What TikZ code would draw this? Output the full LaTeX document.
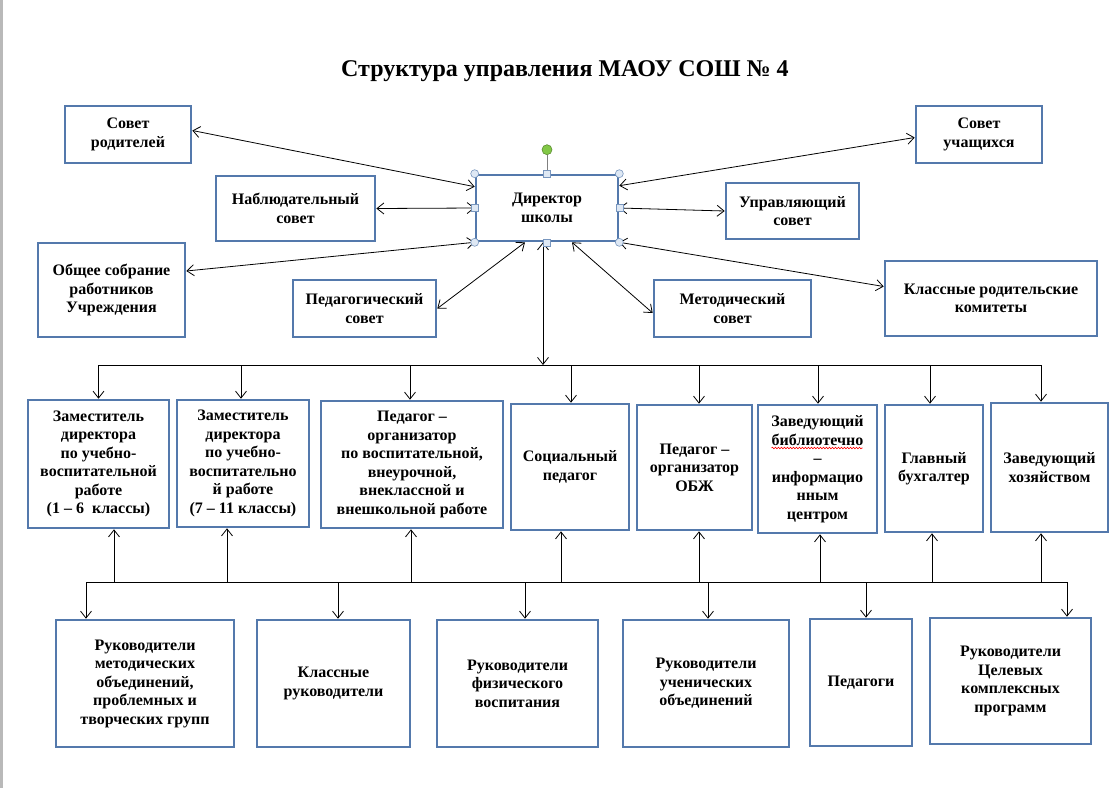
\documentclass[tikz,border=0pt]{standalone}
\usepackage{fontspec}
\setmainfont{Liberation Serif}
\usetikzlibrary{arrows.meta, decorations.pathmorphing}
\definecolor{boxblue}{RGB}{84,121,172}
\definecolor{handlefill}{RGB}{222,232,244}
\definecolor{handleline}{RGB}{120,150,190}
\definecolor{rotgreen}{RGB}{130,200,70}
\newcommand{\dropArrow}[3]{
  \draw[->] ([xshift=#2]#1.north |- #3) -- ([xshift=#2]#1.north);
}
\newcommand{\riseArrow}[3]{
  \draw[->] ([xshift=#2]#1.south |- #3) -- ([xshift=#2]#1.south);
}

\begin{document}
\begin{tikzpicture}[x=1pt, y=-1pt, line width=0.8pt,
  >={Straight Barb[length=7pt,width=11pt]},
  box/.style={draw=boxblue, line width=2.6pt, fill=white, align=center, inner sep=0pt,
    font=\bfseries\fontsize{16}{18.5}\selectfont},
  sz/.style 2 args={minimum width=#1pt, minimum height=#2pt},
  handleC/.style={circle, draw=handleline, fill=handlefill, line width=0.6pt, minimum size=8pt, inner sep=0pt},
  handleS/.style={rectangle, draw=handleline, fill=handlefill, line width=0.6pt, minimum size=7pt, inner sep=0pt}]
  \useasboundingbox (0,0) rectangle (1116,788);
  \fill[gray!55] (0,0) rectangle (3,788);

  % Title
  \node[font=\bfseries\fontsize{24}{28}\selectfont] (title) at (565,71) {Структура управления МАОУ СОШ № 4};

  % Councils
  \node[box, sz={126}{57}] (sovrod) at (128,134.5) {Совет\\родителей};
  \node[box, sz={126}{57}] (sovuch) at (979,134.5) {Совет\\учащихся};
  \node[box, sz={142}{66}] (dir) at (547,208) {Директор\\школы};
  \node[box, sz={159}{65}] (nab) at (295.5,208.5) {Наблюдательный\\совет};
  \node[box, sz={133}{56}] (upr) at (792.5,211) {Управляющий\\совет};
  \node[box, sz={147}{94}] (obsh) at (111.5,290) {Общее собрание\\работников\\Учреждения};
  \node[box, sz={143}{57}] (ped) at (364.5,308.5) {Педагогический\\совет};
  \node[box, sz={157}{57}] (met) at (732.5,308.5) {Методический\\совет};
  \node[box, sz={212}{75}] (klrod) at (991,298.5) {Классные родительские\\комитеты};

  \draw[<->] ([yshift=4pt]sovrod.east) -- ([yshift=-13pt]dir.north west);
  \draw[<->] (nab.east) -- (dir.west);
  \draw[<->] ([yshift=19pt]obsh.east) -- (dir.south west);
  \draw[<->] (ped.east) -- ([xshift=-22pt]dir.south);
  \draw[<->] ([yshift=-4.5pt]met.west) -- ([xshift=25pt]dir.south);
  \draw[<->] ([yshift=-3pt]sovuch.west) -- ([yshift=-12pt]dir.north east);
  \draw[<->] (upr.west) -- (dir.east);
  \draw[<->] ([yshift=12pt]klrod.west) -- (dir.south east);

  % Deputies and staff
  \node[box, sz={141}{128}] (zam1) at (98.5,464) {Заместитель\\директора\\по учебно-\\воспитательной\\работе\\(1 – 6~ классы)};
  \node[box, sz={132}{127}] (zam2) at (243,463.5) {Заместитель\\директора\\по учебно-\\воспитательно\\й работе\\(7 – 11 классы)};
  \node[box, sz={182}{127}] (pedorg) at (412,464.5) {Педагог –\\организатор\\по воспитательной,\\внеурочной,\\внеклассной и\\внешкольной работе};
  \node[box, sz={118}{126}] (soc) at (570,467) {Социальный\\педагог};
  \node[box, sz={115}{125}] (obzh) at (694.5,467.5) {Педагог –\\организатор\\ОБЖ};
  \node[box, sz={119}{128}] (bibl) at (817.5,469) {Заведующий\\библиотечно\\–\\информацио\\нным\\центром};
  \node[box, sz={98}{127}] (buh) at (934,468.5) {Главный\\бухгалтер};
  \node[box, sz={117}{129}] (hoz) at (1049.5,467.5) {Заведующий\\хозяйством};
  \draw[red, line width=0.6pt, decorate, decoration={snake, amplitude=0.8pt, segment length=3pt}]
    ([xshift=-46pt,yshift=21pt]bibl.center) -- ([xshift=45pt,yshift=21pt]bibl.center);

  % Heads of groups
  \node[box, sz={178}{127}] (rmo) at (145,683.5) {Руководители\\методических\\объединений,\\проблемных и\\творческих групп};
  \node[box, sz={153}{127}] (klruk) at (333.5,683.5) {Классные\\руководители};
  \node[box, sz={161}{127}] (rfiz) at (517.5,683.5) {Руководители\\физического\\воспитания};
  \node[box, sz={166}{127}] (ruch) at (706,683.5) {Руководители\\ученических\\объединений};
  \node[box, sz={102}{127}] (pedag) at (861,682.5) {Педагоги};
  \node[box, sz={161}{126}] (rcel) at (1010.5,681) {Руководители\\Целевых\\комплексных\\программ};

  % Buses
  \coordinate (busTop) at (0,365);
  \coordinate (busBot) at (0,582);
  \draw[<->] ([xshift=-4pt]dir.south) -- ([xshift=-4pt]dir.south |- busTop);
  \draw ([xshift=0pt]zam1.north |- busTop) -- ([xshift=-8.5pt]hoz.north |- busTop);
  \draw ([xshift=-59pt]rmo.north |- busBot) -- ([xshift=56.5pt]rcel.north |- busBot);

  \dropArrow{zam1}{0pt}{busTop}
  \dropArrow{zam2}{-2pt}{busTop}
  \dropArrow{pedorg}{-2pt}{busTop}
  \dropArrow{soc}{1pt}{busTop}
  \dropArrow{obzh}{4.5pt}{busTop}
  \dropArrow{bibl}{0.5pt}{busTop}
  \dropArrow{buh}{-4pt}{busTop}
  \dropArrow{hoz}{-8.5pt}{busTop}

  \riseArrow{zam1}{15.5pt}{busBot}
  \riseArrow{zam2}{-16pt}{busBot}
  \riseArrow{pedorg}{-1pt}{busBot}
  \riseArrow{soc}{-9pt}{busBot}
  \riseArrow{obzh}{4.5pt}{busBot}
  \riseArrow{bibl}{2.5pt}{busBot}
  \riseArrow{buh}{-2pt}{busBot}
  \riseArrow{hoz}{-8.5pt}{busBot}

  \dropArrow{rmo}{-59pt}{busBot}
  \dropArrow{klruk}{4.5pt}{busBot}
  \dropArrow{rfiz}{7.5pt}{busBot}
  \dropArrow{ruch}{2pt}{busBot}
  \dropArrow{pedag}{5pt}{busBot}
  \dropArrow{rcel}{56.5pt}{busBot}

  % Selection handles
  \foreach \a/\n in {north west/1, north east/2, south west/3, south east/4}
    \node[handleC] (hc\n) at (dir.\a) {};
  \foreach \a/\n in {north/1, south/2, west/3, east/4}
    \node[handleS] (hs\n) at (dir.\a) {};
  \node[circle, draw=rotgreen!70!black, fill=rotgreen, line width=0.6pt, minimum size=10pt, inner sep=0pt] (rot) at ([yshift=24pt]dir.north) {};
  \draw[gray, line width=1pt] (rot) -- (hs1);
\end{tikzpicture}
\end{document}
